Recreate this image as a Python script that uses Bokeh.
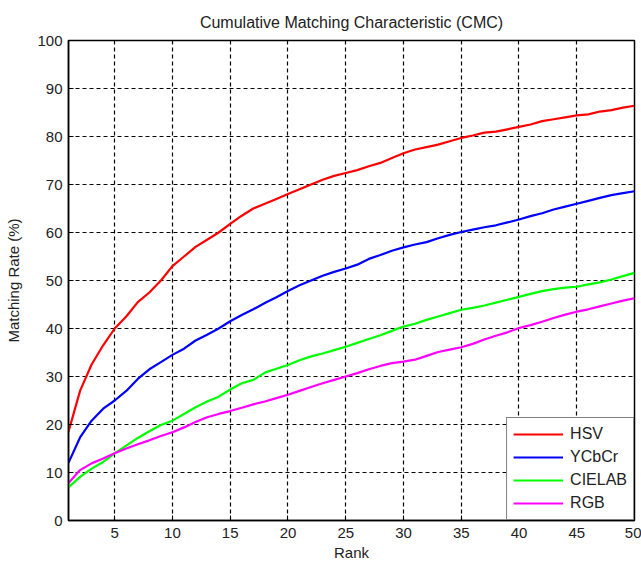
from bokeh.plotting import figure
from bokeh.models import Range1d, FixedTicker, Legend, LegendItem
from bokeh.embed import file_html
from bokeh.resources import INLINE

ranks = list(range(1, 51))

hsv = [18.5, 27, 32.5, 36.5, 40, 42.5, 45.5, 47.5, 50, 53, 55, 57, 58.5, 60, 61.8,
       63.5, 65, 66, 67, 68, 69, 70, 71, 71.8, 72.4,
       73, 73.8, 74.5, 75.5, 76.5, 77.3, 77.8, 78.3, 79, 79.7, 80.2, 80.8, 81, 81.5, 82,
       82.5, 83.2, 83.6, 84, 84.4, 84.6, 85.2, 85.5, 86, 86.4]
ycbcr = [12, 17.3, 20.8, 23.3, 25, 27, 29.5, 31.5, 33, 34.5, 35.8, 37.5, 38.7, 40, 41.5,
         42.8, 44, 45.3, 46.5, 47.8, 49, 50, 51, 51.8, 52.5,
         53.3, 54.5, 55.3, 56.2, 56.9, 57.5, 58, 58.8, 59.5, 60.1, 60.6, 61.1, 61.5, 62.1, 62.7,
         63.4, 64, 64.8, 65.4, 66, 66.6, 67.2, 67.8, 68.2, 68.6]
cielab = [6.9, 9.1, 10.8, 12.2, 14, 15.6, 17.2, 18.6, 19.9, 20.8, 22.2, 23.6, 24.8, 25.8, 27.3,
          28.6, 29.3, 30.8, 31.6, 32.4, 33.4, 34.2, 34.8, 35.5, 36.2,
          37, 37.8, 38.6, 39.5, 40.4, 41, 41.8, 42.5, 43.2, 43.9, 44.3, 44.8, 45.4, 46, 46.6,
          47.2, 47.8, 48.2, 48.5, 48.7, 49.2, 49.6, 50.2, 50.9, 51.6]
rgb = [7.8, 10.5, 11.9, 12.9, 14, 15, 15.9, 16.7, 17.6, 18.4, 19.4, 20.5, 21.5, 22.2, 22.8,
       23.5, 24.2, 24.8, 25.5, 26.2, 27, 27.8, 28.6, 29.3, 30,
       30.7, 31.5, 32.2, 32.8, 33.1, 33.5, 34.3, 35.1, 35.6, 36.1, 36.8, 37.7, 38.5, 39.2, 40.1,
       40.7, 41.4, 42.2, 42.9, 43.5, 44, 44.6, 45.2, 45.8, 46.3]

series_names = ["HSV", "YCbCr", "CIELAB", "RGB"]
series_values = [hsv, ycbcr, cielab, rgb]
series_colors = ["#ff0000", "#0000ff", "#00ff00", "#ff00ff"]

x_ticks = [5, 10, 15, 20, 25, 30, 35, 40, 45, 50]
y_ticks = [0, 10, 20, 30, 40, 50, 60, 70, 80, 90, 100]

FONT = "Liberation Sans"

p = figure(width=641, height=563, output_backend="svg", toolbar_location=None,
           x_range=Range1d(1, 50), y_range=Range1d(0, 100),
           min_border_left=68, min_border_right=7, min_border_top=40, min_border_bottom=42)

p.title.text = "Cumulative Matching Characteristic (CMC)"
p.title.align = "center"
p.title.text_font = FONT
p.title.text_font_size = "16px"
p.title.text_font_style = "normal"
p.title.text_color = "#222222"
p.title.standoff = 20

p.outline_line_color = "black"
p.outline_line_width = 1.5
p.outline_line_alpha = 1.0

for ax in (p.xaxis[0], p.yaxis[0]):
    ax.axis_line_color = "black"
    ax.axis_line_width = 1.5
    ax.major_tick_in = 5
    ax.major_tick_out = 0
    ax.minor_tick_line_color = None
    ax.major_tick_line_color = "black"
    ax.major_label_text_font = FONT
    ax.major_label_text_font_size = "15px"
    ax.major_label_text_color = "#222222"
    ax.axis_label_text_font = FONT
    ax.axis_label_text_font_size = "15px"
    ax.axis_label_text_font_style = "normal"
    ax.axis_label_text_color = "#222222"

p.xaxis.ticker = FixedTicker(ticks=x_ticks)
p.yaxis.ticker = FixedTicker(ticks=y_ticks)
p.xaxis.axis_label = "Rank"
p.yaxis.axis_label = "Matching Rate (%)"
p.xaxis.major_label_standoff = 7
p.yaxis.major_label_standoff = 6
p.xaxis.axis_label_standoff = 3
p.yaxis.axis_label_standoff = 12

for g in (p.xgrid[0], p.ygrid[0]):
    g.grid_line_color = "black"
    g.grid_line_dash = "4 3"
    g.grid_line_width = 1.2
    g.grid_line_alpha = 1.0

items = []
for name, vals, col in zip(series_names, series_values, series_colors):
    r = p.line(ranks, vals, line_color=col, line_width=2.2)
    items.append(LegendItem(label=name, renderers=[r]))

legend = Legend(items=items, location="bottom_right")
legend.margin = 0
legend.padding = 6
legend.spacing = 3
legend.glyph_width = 50
legend.glyph_height = 20
legend.label_height = 20
legend.label_standoff = 7
legend.label_text_font = FONT
legend.label_text_font_size = "16px"
legend.label_text_color = "#222222"
legend.border_line_color = "black"
legend.border_line_width = 1.2
legend.background_fill_color = "white"
legend.background_fill_alpha = 1.0
p.add_layout(legend)

open("out.html", "w").write(file_html(p, INLINE))
